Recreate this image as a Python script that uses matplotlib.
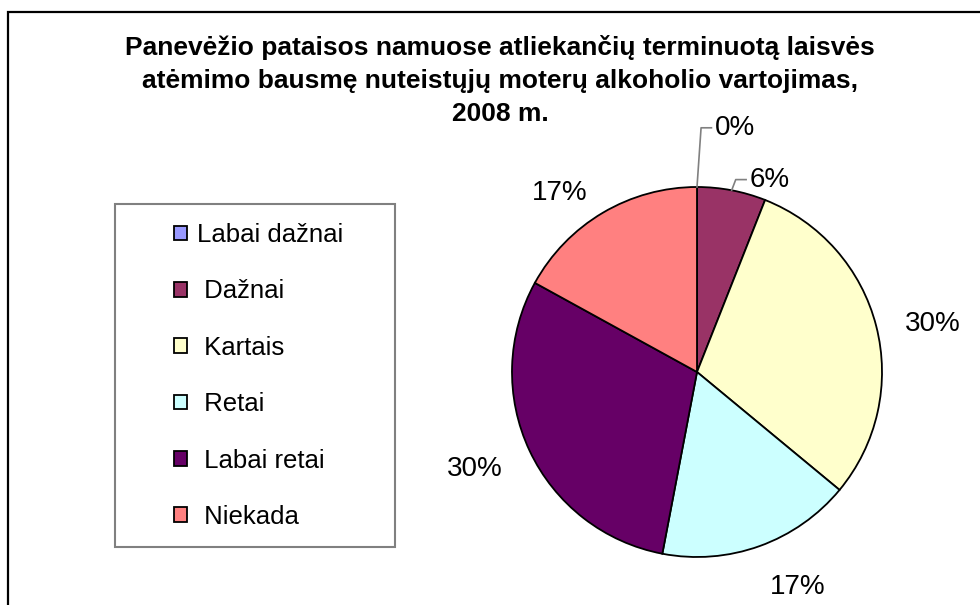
import numpy as np
import matplotlib.pyplot as plt
from matplotlib.patches import Rectangle

plt.rcParams['font.family'] = ['Liberation Sans', 'DejaVu Sans']

categories = ["Labai dažnai", " Dažnai", " Kartais", " Retai", " Labai retai", " Niekada"]
values = [0, 6, 30, 17, 30, 17]
colors = ["#9999FF", "#993366", "#FFFFCC", "#CCFFFF", "#660066", "#FF8080"]
title_lines = ["Panevėžio pataisos namuose atliekančių terminuotą laisvės",
               "atėmimo bausmę nuteistųjų moterų alkoholio vartojimas,",
               "2008 m."]

W, H = 980, 605
fig = plt.figure(figsize=(W / 100, H / 100), dpi=100)


def fx(px):
    return px / W


def fy(py):
    return 1 - py / H


# outer frame (right and bottom edges lie outside the picture)
fig.patches.append(Rectangle((fx(8), fy(700)), 1.2, (700 - 12) / H,
                             transform=fig.transFigure, fill=False,
                             edgecolor="black", linewidth=1.6))

# title, one text per line
for i, line in enumerate(title_lines):
    fig.text(fx(500), fy(48 + 33 * i), line, ha="center", va="center",
             fontsize=19, fontweight="bold")

# pie
cx, cy, r = 697, 372, 185
ax = fig.add_axes([fx(cx - r), fy(cy + r), 2 * r / W, 2 * r / H])
wedges, _ = ax.pie(values, colors=colors, startangle=90, counterclock=False,
                   wedgeprops={"edgecolor": "black", "linewidth": 1.3})
ax.set_xlim(-1, 1)
ax.set_ylim(-1, 1)
ax.axis("off")

total = sum(values)
start = 90.0
for v, w in zip(values, wedges):
    mid = np.deg2rad(start - v / total * 180)
    start -= v / total * 360
    pct = "%d%%" % round(v / total * 100)
    x0, y0 = np.cos(mid), np.sin(mid)
    if v / total < 0.1:
        # small slices get a leader line
        up = 1.32 if v == 0 else 1.04
        ax.plot([x0, x0 + 0.022, x0 + 0.078], [y0, up, up], color="#808080",
                lw=1.2, clip_on=False)
        ax.text(x0 + 0.095, up, pct, ha="left", va="center", fontsize=20,
                clip_on=False)
    else:
        ha = "left" if x0 > 0.1 else ("right" if x0 < -0.1 else "center")
        if abs(y0) < 0.9:
            va, dy = "center", -0.03
        else:
            va, dy = ("bottom" if y0 > 0 else "top"), 0.0
        ax.text(1.16 * x0, 1.16 * y0 + dy, pct, ha=ha, va=va, fontsize=20,
                clip_on=False)

# legend
fig.patches.append(Rectangle((fx(115), fy(547)), (395 - 115) / W, (547 - 204) / H,
                             transform=fig.transFigure, fill=False,
                             edgecolor="#808080", linewidth=1.5))
fig.legend(wedges, categories, loc="upper left",
           bbox_to_anchor=(fx(174), fy(223)), frameon=False, fontsize=18.5,
           handlelength=0.5, handleheight=0.5, handletextpad=0.39,
           labelspacing=1.26, borderpad=0, borderaxespad=0)

fig.savefig("out.png", dpi=100)
